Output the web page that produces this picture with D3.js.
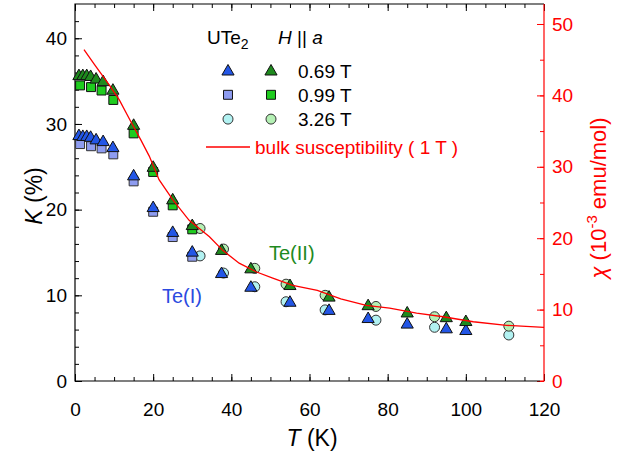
<!DOCTYPE html>
<html>
<head>
<meta charset="utf-8">
<script src="https://cdn.jsdelivr.net/npm/d3@7"></script>
<style>
  body { margin: 0; background: #fff; }
  svg { display: block; font-family: "Liberation Sans", Arial, sans-serif; }
</style>
</head>
<body>
<svg id="chart" width="631" height="454"></svg>
<script>
// 0.69 T (triangles)
const tTri = [1, 2, 3, 4, 5.4, 7.2, 9.7, 15, 20, 25, 30, 37.5, 45, 55, 65, 75, 85, 95, 100]
const te1Tri = [28.7, 28.6, 28.6, 28.5, 28.2, 28.0, 27.3, 24.0, 20.3, 17.4, 15.1, 12.6, 11.0, 9.25, 8.3, 7.35, 6.7, 6.15, 5.95]
const te2Tri = [35.7, 35.7, 35.7, 35.6, 35.3, 35.0, 34.0, 29.9, 25.0, 21.2, 18.2, 15.3, 13.15, 11.2, 9.85, 8.85, 8.0, 7.45, 7.0]
// 0.99 T (squares)
const tSq = [1.3, 4.1, 6.8, 9.8, 15, 20, 25, 30]
const te1Sq = [27.65, 27.4, 27.15, 26.45, 23.3, 19.75, 16.8, 14.5]
const te2Sq = [34.5, 34.3, 33.9, 32.8, 28.9, 24.4, 20.5, 17.7]
// 3.26 T (circles)
const tCirc = [32, 38, 46, 54, 64, 77, 92, 111]
const te1Circ = [14.6, 12.6, 11.0, 9.25, 8.3, 7.1, 6.27, 5.37]
const te2Circ = [17.8, 15.4, 13.15, 11.3, 10.0, 8.7, 7.5, 6.4]
// bulk susceptibility, 1 T (10^-3 emu/mol)
const chiT = [2.3, 5, 8.7, 11.3, 14.3, 16.8, 19, 21.5, 25, 29.2, 34.4, 37.8, 42, 46.3, 50.6, 55.7, 62, 68, 74.5, 80.5, 87.4, 94.2, 101.9, 110.4, 120]
const chiVal = [46.4, 44.3, 41.5, 39.4, 36.3, 33.8, 31.5, 28.2, 25.4, 22.5, 20.2, 18.3, 16.5, 15.3, 14.4, 13.4, 12.7, 11.5, 10.6, 10.2, 9.5, 9.0, 8.3, 7.8, 7.5]

const kTicks = [0, 10, 20, 30, 40]
const chiTicks = [0, 10, 20, 30, 40, 50]
const tTicks = [0, 20, 40, 60, 80, 100, 120]

const svg = d3.select('#chart')
const pLeft = 75, pRight = 544, pTop = 4, pBottom = 381

const x = d3.scaleLinear().domain([0, 120]).range([pLeft, pRight])
const y = d3.scaleLinear().domain([0, 44]).range([pBottom, pTop])
const y2 = d3.scaleLinear().domain([0, 52.8]).range([pBottom, pTop])

const tickFont = '19px'

function styleAxis(g, color){
    g.select('.domain').remove()
    g.selectAll('line').attr('stroke', color).attr('stroke-width', 1)
    g.selectAll('text').attr('fill', color).style('font-size', tickFont).attr('font-family', null)
}

// bottom
svg.append('g').attr('transform', 'translate(0,' + pBottom + ')')
    .call(d3.axisBottom(x).tickValues(d3.range(0, 121, 5)).tickSize(-4).tickFormat(''))
    .call(g => styleAxis(g, '#000'))
svg.append('g').attr('transform', 'translate(0,' + pBottom + ')')
    .call(d3.axisBottom(x).tickValues(tTicks).tickSize(-7).tickPadding(22))
    .call(g => styleAxis(g, '#000'))
// top
svg.append('g').attr('transform', 'translate(0,' + pTop + ')')
    .call(d3.axisTop(x).tickValues(d3.range(0, 121, 5)).tickSize(-4).tickFormat(''))
    .call(g => styleAxis(g, '#000'))
svg.append('g').attr('transform', 'translate(0,' + pTop + ')')
    .call(d3.axisTop(x).tickValues(tTicks).tickSize(-7).tickFormat(''))
    .call(g => styleAxis(g, '#000'))
// left
svg.append('g').attr('transform', 'translate(' + pLeft + ',0)')
    .call(d3.axisLeft(y).tickValues(d3.range(0, 44, 2)).tickSize(-4).tickFormat(''))
    .call(g => styleAxis(g, '#000'))
svg.append('g').attr('transform', 'translate(' + pLeft + ',0)')
    .call(d3.axisLeft(y).tickValues(kTicks).tickSize(-7).tickPadding(8))
    .call(g => styleAxis(g, '#000'))
// right (red)
svg.append('g').attr('transform', 'translate(' + pRight + ',0)')
    .call(d3.axisRight(y2).tickValues(d3.range(0, 53, 5)).tickSize(-4).tickFormat(''))
    .call(g => styleAxis(g, 'red'))
svg.append('g').attr('transform', 'translate(' + pRight + ',0)')
    .call(d3.axisRight(y2).tickValues(chiTicks).tickSize(-7).tickPadding(8))
    .call(g => styleAxis(g, 'red'))

// frame
svg.append('path')
    .attr('d', 'M' + pRight + ' ' + pTop + ' L' + pLeft + ' ' + pTop + ' L' + pLeft + ' ' + pBottom + ' L' + (pRight - 4) + ' ' + pBottom)
    .attr('fill', 'none').attr('stroke', '#000').attr('stroke-width', 1.2)
svg.append('path')
    .attr('d', 'M' + (pRight - 4) + ' ' + pBottom + ' L' + pRight + ' ' + pBottom + ' L' + pRight + ' ' + pTop)
    .attr('fill', 'none').attr('stroke', 'red').attr('stroke-width', 1.2)

// markers
const tri = d3.symbol().type(d3.symbolTriangle).size(64)
const sq = d3.symbol().type(d3.symbolSquare).size(80)

function drawPoints(ts, ks, shape, fill, stroke){
    const pts = ts.map((t, i) => ({t: t, k: ks[i]}))
    const g = svg.append('g')
    if (shape === 'circle') {
        g.selectAll('circle').data(pts).join('circle')
            .attr('cx', d => x(d.t)).attr('cy', d => y(d.k)).attr('r', 5)
            .attr('fill', fill).attr('stroke', stroke).attr('stroke-width', 1)
    } else {
        g.selectAll('path').data(pts).join('path')
            .attr('d', shape === 'tri' ? tri : sq)
            .attr('transform', d => 'translate(' + x(d.t) + ',' + (y(d.k) + (shape === 'tri' ? 1 : 0)) + ')')
            .attr('fill', fill).attr('stroke', stroke).attr('stroke-width', 1)
    }
}

const c = {
    tri1: '#2356e6', sq1: '#8e9cf0', circ1: '#b2f2f2',
    tri2: '#1e8a1e', sq2: '#1fcc1f', circ2: '#b4f0b4'
}

drawPoints(tCirc, te1Circ, 'circle', c.circ1, '#333')
drawPoints(tCirc, te2Circ, 'circle', c.circ2, '#333')
drawPoints(tSq, te1Sq, 'sq', c.sq1, '#333')
drawPoints(tSq, te2Sq, 'sq', c.sq2, '#111')
drawPoints(tTri, te1Tri, 'tri', c.tri1, '#111')
drawPoints(tTri, te2Tri, 'tri', c.tri2, '#111')

// bulk susceptibility line (right axis)
const line = d3.line().x((d, i) => x(chiT[i])).y(d => y2(d))
svg.append('path').datum(chiVal)
    .attr('d', line)
    .attr('fill', 'none').attr('stroke', 'red').attr('stroke-width', 1.3)

// legend
const lg = svg.append('g').style('font-size', '19px')
const lt = lg.append('text').attr('x', 207).attr('y', 44)
lt.append('tspan').text('UTe')
lt.append('tspan').text('2').attr('dy', 5).style('font-size', '14px')
const ht = lg.append('text').attr('x', 278).attr('y', 44)
ht.append('tspan').text('H').style('font-style', 'italic')
ht.append('tspan').text(' || ')
ht.append('tspan').text('a').style('font-style', 'italic')

const legRows = [
    {label: '0.69 T', shape: 'tri', f1: c.tri1, f2: c.tri2},
    {label: '0.99 T', shape: 'sq', f1: c.sq1, f2: c.sq2},
    {label: '3.26 T', shape: 'circle', f1: c.circ1, f2: c.circ2}
]
legRows.forEach((r, i) => {
    const cy = 70.5 + i * 24.3
    ;[[228, r.f1], [271, r.f2]].forEach(p => {
        if (r.shape === 'circle') {
            lg.append('circle').attr('cx', p[0]).attr('cy', cy).attr('r', 5)
                .attr('fill', p[1]).attr('stroke', '#333')
        } else {
            lg.append('path').attr('d', r.shape === 'tri' ? tri : sq)
                .attr('transform', 'translate(' + p[0] + ',' + (cy + (r.shape === 'tri' ? 1 : 0)) + ')')
                .attr('fill', p[1]).attr('stroke', '#111')
        }
    })
    lg.append('text').attr('x', 298).attr('y', cy + 7).text(r.label)
})
lg.append('line').attr('x1', 206).attr('x2', 250).attr('y1', 147).attr('y2', 147)
    .attr('stroke', 'red').attr('stroke-width', 1.3)
lg.append('text').attr('x', 255).attr('y', 154).attr('fill', 'red').text('bulk susceptibility ( 1 T )')

// site labels
svg.append('text').attr('x', 269).attr('y', 260).attr('fill', '#1e8a1e').style('font-size', '20px').text('Te(II)')
svg.append('text').attr('x', 162).attr('y', 303).attr('fill', '#2a4ae0').style('font-size', '20px').text('Te(I)')

// axis titles
const xt = svg.append('text').attr('x', 312).attr('y', 446).attr('text-anchor', 'middle').style('font-size', '23px')
xt.append('tspan').text('T').style('font-style', 'italic')
xt.append('tspan').text(' (K)')

const yt = svg.append('text').attr('transform', 'translate(42,196) rotate(-90)')
    .attr('text-anchor', 'middle').style('font-size', '23px')
yt.append('tspan').text('K').style('font-style', 'italic')
yt.append('tspan').text(' (%)')

const rt = svg.append('text').attr('transform', 'translate(606,198) rotate(-90)')
    .attr('text-anchor', 'middle').attr('fill', 'red').style('font-size', '22px')
rt.append('tspan').text('χ').style('font-style', 'italic')
rt.append('tspan').text(' (10')
rt.append('tspan').text('-3').attr('dy', -9).style('font-size', '15px')
rt.append('tspan').text(' emu/mol)').attr('dy', 9)
</script>
</body>
</html>
